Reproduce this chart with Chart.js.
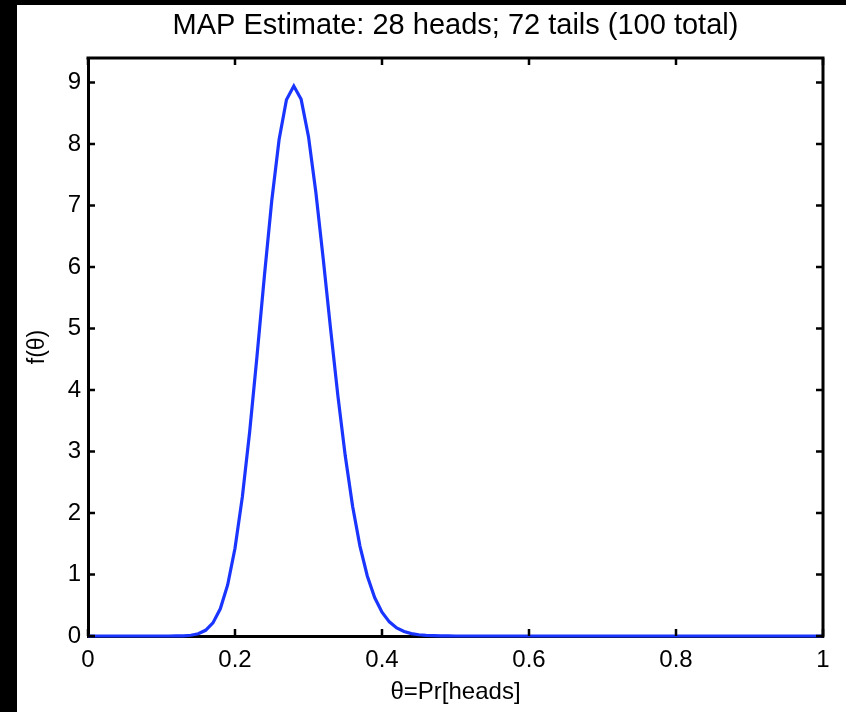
<!DOCTYPE html>
<html>
<head>
<meta charset="utf-8">
<script src="https://cdn.jsdelivr.net/npm/chart.js@4/dist/chart.umd.min.js"></script>
<style>
html,body{margin:0;padding:0;background:#fff;}
canvas{display:block;}
</style>
</head>
<body>
<canvas id="c" width="846" height="712"></canvas>
<script>
const chartTitle = 'MAP Estimate: 28 heads; 72 tails (100 total)';
const xAxisTitle = 'θ=Pr[heads]';
const yAxisTitle = 'f(θ)';
const thetaValues = [0, 0.10, 0.11, 0.12, 0.13, 0.14, 0.15, 0.16, 0.17, 0.18, 0.19,
  0.20, 0.21, 0.22, 0.23, 0.24, 0.25, 0.26, 0.27, 0.28, 0.29,
  0.30, 0.31, 0.32, 0.33, 0.34, 0.35, 0.36, 0.37, 0.38, 0.39,
  0.40, 0.41, 0.42, 0.43, 0.44, 0.45, 0.46, 0.47, 0.48, 0.49, 0.50, 1];
const densityValues = [0, 0.0000, 0.0002, 0.0009, 0.0035, 0.0120, 0.0357, 0.0926, 0.2135, 0.442, 0.830,
  1.427, 2.262, 3.325, 4.559, 5.857, 7.078, 8.074, 8.722, 8.944, 8.728,
  8.121, 7.218, 6.138, 5.000, 3.906, 2.930, 2.111, 1.463, 0.976, 0.626,
  0.387, 0.230, 0.132, 0.073, 0.039, 0.020, 0.0098, 0.0047, 0.0021, 0.0009, 0.0004, 0];
const xTickValues = [0, 0.2, 0.4, 0.6, 0.8, 1];
const yTickValues = [0, 1, 2, 3, 4, 5, 6, 7, 8, 9];
const xMin = 0, xMax = 1, yMin = 0, yMax = 9.4;

const FONT = "'Liberation Sans', Arial, Helvetica, sans-serif";

const framePlugin = {
  id: 'frame',
  beforeDraw(chart) {
    const ctx = chart.ctx;
    ctx.save();
    ctx.fillStyle = '#fff';
    ctx.fillRect(0, 0, chart.width, chart.height);
    ctx.fillStyle = '#000';
    ctx.fillRect(0, 0, chart.width, 5);
    ctx.fillRect(0, 0, 17, chart.height);
    ctx.restore();
  },
  afterDraw(chart) {
    const ctx = chart.ctx;
    const a = chart.chartArea;
    const xs = chart.scales.x, ys = chart.scales.y;
    ctx.save();
    ctx.strokeStyle = '#000';
    ctx.lineWidth = 3;
    ctx.beginPath();
    ctx.moveTo(a.left - 1.5, a.top);
    ctx.lineTo(a.right, a.top);
    ctx.lineTo(a.right, a.bottom + 1.5);
    ctx.stroke();
    ctx.lineWidth = 2.5;
    ctx.beginPath();
    xTickValues.forEach(v => {
      const px = xs.getPixelForValue(v);
      ctx.moveTo(px, a.bottom); ctx.lineTo(px, a.bottom - 7);
      ctx.moveTo(px, a.top); ctx.lineTo(px, a.top + 7);
    });
    yTickValues.forEach(v => {
      const py = ys.getPixelForValue(v);
      ctx.moveTo(a.left, py); ctx.lineTo(a.left + 7, py);
      ctx.moveTo(a.right, py); ctx.lineTo(a.right - 7, py);
    });
    ctx.stroke();
    ctx.fillStyle = '#000';
    ctx.font = '29px ' + FONT;
    ctx.textAlign = 'center';
    ctx.textBaseline = 'alphabetic';
    ctx.fillText(chartTitle, (a.left + a.right) / 2, 34);
    ctx.restore();
  }
};

new Chart(document.getElementById('c'), {
  type: 'line',
  data: {
    datasets: [{
      data: thetaValues.map((t, i) => ({x: t, y: densityValues[i]})),
      borderColor: '#1a35ff',
      borderWidth: 3.2,
      pointRadius: 0,
      tension: 0,
      fill: false,
      clip: false
    }]
  },
  options: {
    responsive: false,
    devicePixelRatio: 1,
    animation: false,
    layout: {padding: {top: 58, right: 23, left: 0, bottom: 0}},
    plugins: {legend: {display: false}, tooltip: {enabled: false}, title: {display: false}},
    scales: {
      x: {
        type: 'linear', min: xMin, max: xMax,
        afterBuildTicks: s => { s.ticks = xTickValues.map(v => ({value: v})); },
        afterFit: s => { s.height = 76; },
        grid: {display: true, drawOnChartArea: false, drawTicks: false},
        border: {display: true, color: '#000', width: 3},
        ticks: {color: '#000', font: {family: FONT, size: 24}, padding: 10, maxRotation: 0,
          callback: v => String(v)},
        title: {display: true, text: xAxisTitle, color: '#000', font: {family: FONT, size: 24},
          padding: {top: 0, bottom: 5}}
      },
      y: {
        type: 'linear', min: yMin, max: yMax,
        afterBuildTicks: s => { s.ticks = yTickValues.map(v => ({value: v})); },
        afterFit: s => { s.width = 88; },
        grid: {display: true, drawOnChartArea: false, drawTicks: false},
        border: {display: true, color: '#000', width: 3},
        ticks: {color: '#000', font: {family: FONT, size: 24}, padding: 7,
          callback: v => String(v)},
        title: {display: true, text: yAxisTitle, color: '#000', font: {family: FONT, size: 23},
          padding: {top: 24, bottom: 0}}
      }
    }
  },
  plugins: [framePlugin]
});
</script>
</body>
</html>
